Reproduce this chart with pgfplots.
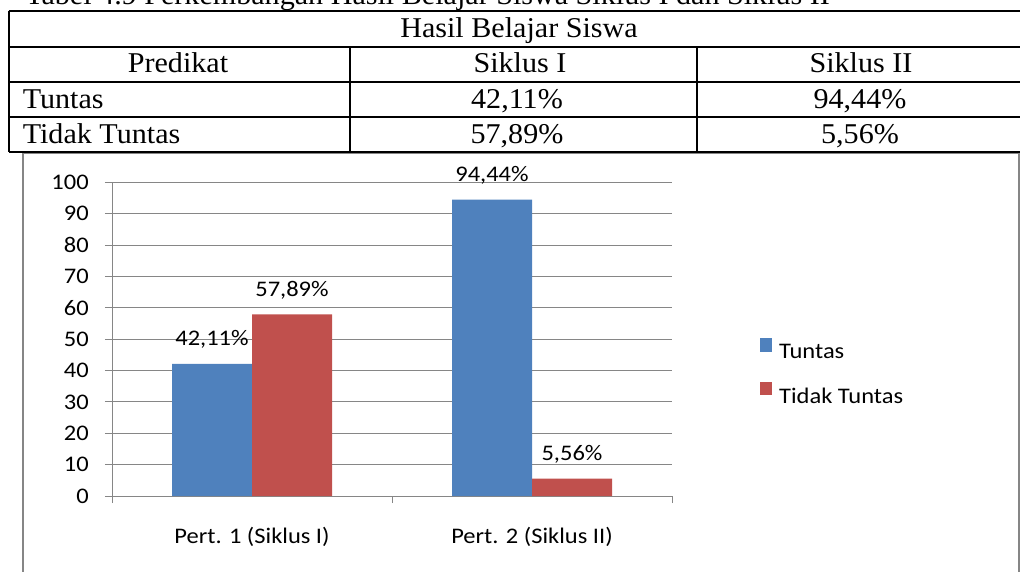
\documentclass[border=0pt]{standalone}
\usepackage{graphicx}
\usepackage{pgfplots}
\pgfplotsset{compat=1.18}
\usepackage{fontspec}
\setmainfont{Liberation Serif}
\newfontfamily\calfont{Carlito}
\definecolor{tblue}{HTML}{4F81BD}
\definecolor{tred}{HTML}{C0504D}
\definecolor{ggray}{HTML}{868686}
\newcommand\tf{\fontsize{21.5pt}{24pt}\selectfont}
\newcommand\T[1]{\scalebox{1.05}[1]{\tf #1}}
\newcommand\cf{\calfont\fontsize{16.7pt}{20pt}\selectfont}
\newcommand\C[1]{\scalebox{1.1}[1]{#1}}

\begin{document}
\begin{tikzpicture}
\path[use as bounding box] (0,0) rectangle (765pt,-428.25pt);
\clip (0,0) rectangle (765pt,-428.25pt);
\begin{scope}[x=0.75pt,y=-0.75pt]
% caption (cut off at top)
\node[anchor=base west, inner sep=0pt] at (25,4) {\T{Tabel 4.9 Perkembangan Hasil Belajar Siswa Siklus I dan Siklus II}};
% chart frame
\draw[ggray, line width=1.5pt] (23,600) -- (23,153) -- (1019,153) -- (1019,600);
% table lines
\draw[black, line width=1.5pt]
  (8.5,10.5) -- (1040,10.5)
  (8.5,46.5) -- (1040,46.5)
  (8.5,82.3) -- (1040,82.3)
  (8.5,116.5) -- (1040,116.5)
  (8.5,151.5) -- (1040,151.5)
  (8.5,10.5) -- (8.5,151.5)
  (350,46.5) -- (350,151.5)
  (697,46.5) -- (697,151.5);
% table text
\node[anchor=base, inner sep=0pt] at (519,37.5) {\T{Hasil Belajar Siswa}};
\node[anchor=base, inner sep=0pt] at (178,72.5) {\T{Predikat}};
\node[anchor=base, inner sep=0pt] at (520,72.5) {\T{Siklus I}};
\node[anchor=base, inner sep=0pt] at (861,72.5) {\T{Siklus II}};
\node[anchor=base west, inner sep=0pt] at (22.5,108) {\T{Tuntas}};
\node[anchor=base, inner sep=0pt] at (517,108) {\T{42,11\%}};
\node[anchor=base, inner sep=0pt] at (860,108) {\T{94,44\%}};
\node[anchor=base west, inner sep=0pt] at (22.5,143) {\T{Tidak Tuntas}};
\node[anchor=base, inner sep=0pt] at (517,143) {\T{57,89\%}};
\node[anchor=base, inner sep=0pt] at (860,143) {\T{5,56\%}};
\end{scope}
\begin{axis}[
  at={(84pt,-372pt)}, anchor=south west,
  scale only axis, width=420pt, height=235.3pt,
  xmin=-0.5, xmax=1.5, ymin=0, ymax=100,
  ybar=0pt, bar width=60pt,
  axis x line*=bottom, axis y line*=left,
  axis line style={draw=ggray, line width=0.75pt},
  ymajorgrids, grid style={draw=ggray, line width=0.75pt},
  tick align=outside, major tick length=5.25pt,
  tick style={draw=ggray, line width=0.75pt},
  ytick={0,10,...,100},
  yticklabel={\C{\pgfmathprintnumber{\tick}}},
  xtick={-0.5,0.5,1.5}, xticklabels={},
  extra x ticks={0,1},
  extra x tick labels={\C{Pert. 1 (Siklus I)}, \C{Pert. 2 (Siklus II)}},
  extra x tick style={major tick length=0pt, grid=none},
  xticklabel style={anchor=base, yshift=-35.25pt, inner sep=0pt},
  yticklabel style={anchor=east, inner sep=0pt, xshift=-12pt},
  ticklabel style={font=\cf},
  /pgf/number format/assume math mode=true,
  nodes near coords={\C{\pgfmathprintnumber[fixed,fixed zerofill,precision=2,use comma,assume math mode=true]{\pgfplotspointmeta}\%}},
  every node near coord/.append style={font=\cf, anchor=base, yshift=13.5pt, inner sep=0pt, text=black},
  legend style={draw=none, fill=none, at={(1.1571,0.503)}, anchor=north west,
    inner sep=0pt, font=\cf, row sep=16pt, nodes={inner sep=0pt},
    /tikz/every odd column/.append style={column sep=5.5pt}},
  legend cell align=left,
]
\addplot[fill=tblue, draw=none, legend image code/.code={\fill[tblue] (0pt,0.75pt) rectangle (8.7pt,10.7pt);}] coordinates {(0,42.11) (1,94.44)};
\addplot[fill=tred, draw=none, legend image code/.code={\fill[tred] (0pt,0.75pt) rectangle (8.7pt,10.7pt);}] coordinates {(0,57.89) (1,5.56)};
\legend{\C{Tuntas}, \C{Tidak Tuntas}}
\end{axis}
\end{tikzpicture}
\end{document}
